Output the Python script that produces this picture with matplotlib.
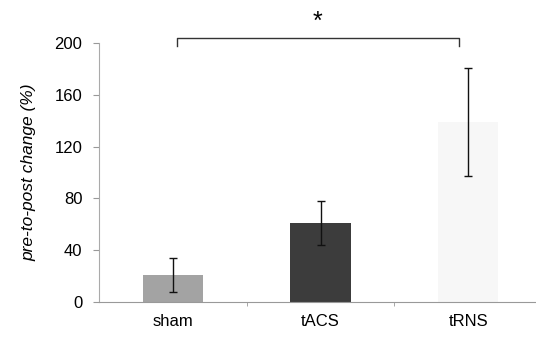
import matplotlib
matplotlib.use("Agg")
import matplotlib.pyplot as plt

categories = ["sham", "tACS", "tRNS"]
means = [21, 61, 139]
errors = [13, 17, 42]
bar_colors = ["#a3a3a3", "#3c3c3c", "#f7f7f7"]
yticks = [0, 40, 80, 120, 160, 200]

plt.rcParams['font.family'] = ['Liberation Sans', 'DejaVu Sans']

fig = plt.figure(figsize=(5.36, 3.37), dpi=100)
ax = fig.add_axes([99/536, 35/337, 443/536, 259/337])

x = list(range(len(categories)))
ax.bar(x, means, width=0.41, color=bar_colors, edgecolor='none', zorder=2)
ax.errorbar(x, means, yerr=errors, fmt='none', ecolor='#111111', elinewidth=1.0,
            capsize=3, capthick=1.0, zorder=3)

ax.set_xlim(-0.5, 2.5)
ax.set_ylim(0, 200)
ax.set_yticks(yticks)
ax.set_xticks(x)
ax.set_xticklabels(categories, fontsize=12)
ax.tick_params(axis='x', length=0, pad=9)
ax.tick_params(axis='y', labelsize=12, length=4, color='#999999', direction='out', pad=8)

ax.set_xticks([0.5, 1.5], minor=True)
ax.tick_params(axis='x', which='minor', length=3, color='#999999', direction='out')

for s in ['top', 'right']:
    ax.spines[s].set_visible(False)
ax.spines['left'].set_color('#aaaaaa')
ax.spines['bottom'].set_color('#999999')
ax.spines['left'].set_linewidth(0.8)
ax.spines['bottom'].set_linewidth(0.8)

ax.set_ylabel("pre-to-post change (%)", fontsize=12.5, style='italic', labelpad=13)

# significance bracket
ax.plot([0.03, 0.03, 1.94, 1.94], [198, 204, 204, 198], color='#333333', lw=1.0,
        clip_on=False, zorder=4)
ax.text(0.98, 207, "*", ha='center', va='bottom', fontsize=18, clip_on=False)

fig.savefig("out.png", dpi=100)
